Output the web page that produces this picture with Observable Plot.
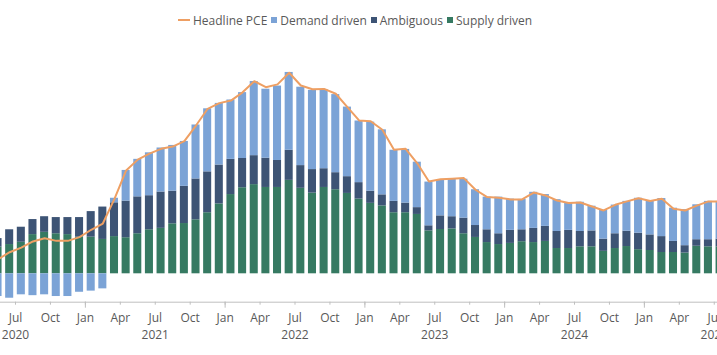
<!DOCTYPE html>
<html><head><meta charset="utf-8">
<script src="https://cdn.jsdelivr.net/npm/d3@7"></script>
<script src="https://cdn.jsdelivr.net/npm/@observablehq/plot@0.6"></script>
<style>
body{margin:0;background:#fff;overflow:hidden;font-family:"Open Sans",sans-serif;}
#wrap{position:relative;width:717px;height:355px;overflow:hidden;}
#legend{position:absolute;left:178px;top:10px;height:20px;display:flex;align-items:center;font-size:12px;color:#595959;white-space:nowrap;}
#legend .it{display:flex;align-items:center;margin-right:4px;}
#legend .ln{width:12px;height:2px;margin-right:3px;}
#legend .sq{width:6px;height:6px;margin-right:3px;}
#chart{position:absolute;left:0;top:36px;}
</style></head>
<body><div id="wrap"><div id="legend"></div><div id="chart"></div></div>
<script>
const months = [
 "2020-05","2020-06","2020-07","2020-08","2020-09","2020-10","2020-11","2020-12",
 "2021-01","2021-02","2021-03","2021-04","2021-05","2021-06","2021-07","2021-08","2021-09","2021-10","2021-11","2021-12",
 "2022-01","2022-02","2022-03","2022-04","2022-05","2022-06","2022-07","2022-08","2022-09","2022-10","2022-11","2022-12",
 "2023-01","2023-02","2023-03","2023-04","2023-05","2023-06","2023-07","2023-08","2023-09","2023-10","2023-11","2023-12",
 "2024-01","2024-02","2024-03","2024-04","2024-05","2024-06","2024-07","2024-08","2024-09","2024-10","2024-11","2024-12",
 "2025-01","2025-02","2025-03","2025-04","2025-05","2025-06","2025-07"];
const supply = [0.94,1.03,1.11,1.38,1.46,1.41,1.38,1.29,
 1.29,1.21,1.31,1.27,1.41,1.55,1.60,1.76,1.77,1.90,2.15,2.46,
 2.79,3.03,3.14,3.04,3.04,3.29,3.01,2.84,3.04,2.96,2.83,2.63,
 2.48,2.39,2.15,2.15,2.09,1.51,1.56,1.58,1.41,1.28,1.10,1.03,
 1.07,1.13,1.10,1.14,0.89,0.89,0.95,0.95,0.79,0.89,0.96,0.85,
 0.82,0.75,0.75,0.73,0.97,0.95,0.95];
const ambiguous = [0.30,0.52,0.53,0.53,0.55,0.57,0.60,0.69,
 0.90,1.14,1.19,1.29,1.30,1.20,1.28,1.15,1.31,1.44,1.44,1.37,
 1.24,1.03,1.02,1.03,0.95,1.06,0.80,0.83,0.66,0.60,0.59,0.58,
 0.43,0.39,0.40,0.34,0.24,0.18,0.48,0.43,0.55,0.42,0.45,0.38,
 0.46,0.42,0.50,0.53,0.60,0.64,0.54,0.56,0.43,0.52,0.54,0.58,
 0.55,0.56,0.39,0.26,0.23,0.25,0.27];
const demand = [-0.80,-0.86,-0.74,-0.77,-0.74,-0.80,-0.80,-0.65,
 -0.61,-0.53,0.16,1.08,1.32,1.51,1.55,1.61,1.58,1.90,2.22,2.17,
 2.09,2.32,2.61,2.43,2.62,2.74,2.76,2.79,2.78,2.75,2.45,2.17,
 2.43,2.29,1.80,1.89,1.60,1.54,1.27,1.31,1.37,1.26,1.15,1.29,
 1.10,1.07,1.27,1.12,1.12,0.96,1.03,0.87,1.01,1.01,1.05,1.23,
 1.18,1.34,1.17,1.27,1.23,1.35,1.33];
const headline = [0.51,0.76,0.92,1.14,1.25,1.16,1.16,1.29,
 1.55,1.77,2.64,3.64,4.02,4.23,4.40,4.48,4.67,5.22,5.81,6.01,
 6.10,6.39,6.78,6.57,6.67,7.08,6.63,6.50,6.51,6.34,5.87,5.40,
 5.37,5.07,4.37,4.40,3.89,3.25,3.33,3.35,3.37,2.96,2.70,2.68,
 2.62,2.62,2.86,2.76,2.58,2.49,2.51,2.37,2.23,2.43,2.55,2.66,
 2.56,2.64,2.29,2.23,2.40,2.55,2.55];
const seriesNames = ["Supply driven","Ambiguous","Demand driven"];
const seriesColors = ["#367a62","#3d5475","#7ba3d6"];
const lineName = "Headline PCE";
const lineColor = "#ee9f63";
const monthNames = ["Jan","Feb","Mar","Apr","May","Jun","Jul","Aug","Sep","Oct","Nov","Dec"];
const years = ["2020","2021","2022","2023","2024","2025"];

// month index: Jan 2020 = 0
const idx = m => (+m.slice(0,4) - 2020) * 12 + (+m.slice(5,7) - 1);
const rows = [];
months.forEach((m, k) => {
  const vals = [supply[k], ambiguous[k], demand[k]];
  let pos = 0, neg = 0;
  vals.forEach((v, s) => {
    let y1, y2;
    if (v >= 0) { y1 = pos; y2 = pos + v; pos = y2; } else { y1 = neg; y2 = neg + v; neg = y2; }
    rows.push({i: idx(m), series: seriesNames[s], y1, y2});
  });
});
const lineData = months.map((m, k) => ({i: idx(m), v: headline[k]}));

const quarterTicks = d3.range(6, 67, 3);
const janTicks = d3.range(12, 67, 12);
const yearTicks = years.map((y, j) => 6 + 12 * j);

const chart = Plot.plot({
  width: 717, height: 319,
  marginLeft: 0, marginRight: 0, marginTop: 10.1, marginBottom: 53.3,
  style: {fontFamily: "'Open Sans', sans-serif", fontSize: "12px", background: "transparent"},
  x: {type: "linear", domain: [4.712, 4.712 + 717 / 11.646], axis: null},
  y: {domain: [-1, 8], axis: null},
  color: {domain: seriesNames, range: seriesColors},
  marks: [
    Plot.rect(rows, {x1: "i", x2: d => d.i + 1, y1: "y1", y2: "y2", fill: "series", insetLeft: 1.8, insetRight: 1.8, clip: true}),
    Plot.line(lineData, {x: d => d.i + 0.5, y: "v", stroke: lineColor, strokeWidth: 2, clip: true}),
    Plot.ruleY([-1], {stroke: "#bfbfbf", strokeWidth: 1}),
    Plot.axisX({ticks: quarterTicks, tickSize: 3, tickPadding: 8, tickFormat: i => monthNames[i % 12], stroke: "#bfbfbf", fill: "#595959", fontSize: 12, label: null}),
    Plot.axisX({ticks: janTicks, tickSize: 6, tickFormat: () => "", stroke: "#bfbfbf", label: null}),
    Plot.axisX({ticks: yearTicks, tickSize: 0, tickPadding: 28, tickFormat: i => years[(i - 6) / 12], fill: "#595959", fontSize: 12, label: null})
  ]
});
document.getElementById("chart").appendChild(chart);

const legend = document.getElementById("legend");
const items = [{name: lineName, color: lineColor, line: true}].concat(
  [2, 1, 0].map(s => ({name: seriesNames[s], color: seriesColors[s], line: false})));
items.forEach(it => {
  const d = document.createElement("div"); d.className = "it";
  const sw = document.createElement("div"); sw.className = it.line ? "ln" : "sq"; sw.style.background = it.color;
  const t = document.createElement("span"); t.textContent = it.name;
  d.appendChild(sw); d.appendChild(t); legend.appendChild(d);
});
</script></body></html>
